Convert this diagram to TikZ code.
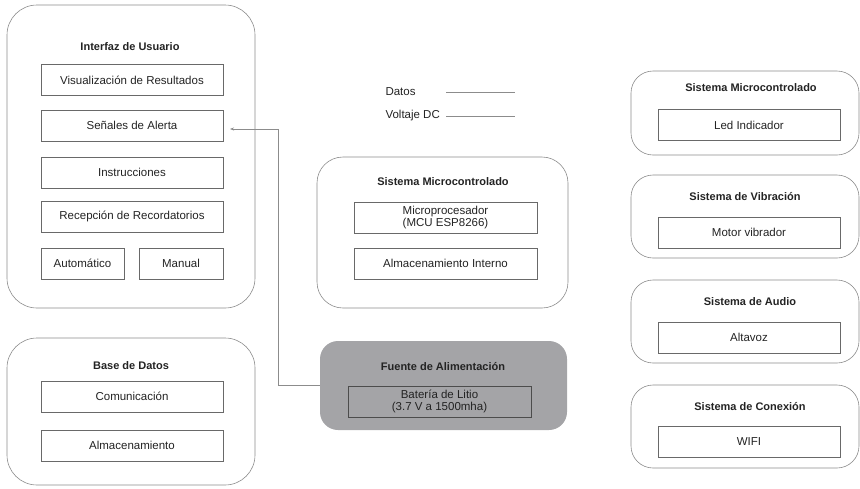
\documentclass[tikz,border=0pt]{standalone}
\usepackage{fontspec}
\setmainfont{Liberation Sans}
\usepackage{xcolor}
\definecolor{bdgray}{RGB}{140,140,140}
\definecolor{boxgray}{RGB}{105,105,105}
\definecolor{txtgray}{RGB}{35,35,35}
\definecolor{pwrgray}{RGB}{164,164,167}
\usepackage{tikz}
\usetikzlibrary{arrows.meta,positioning}

\begin{document}
\begin{tikzpicture}[x=1pt,y=-1pt,
  font=\fontsize{11.5}{13}\selectfont, text=txtgray,
  group/.style={draw=bdgray, line width=0.6pt, rounded corners=22pt, inner sep=0pt},
  part/.style={draw=boxgray, line width=0.6pt, minimum height=31pt, inner sep=0pt, align=center, font=\fontsize{11.5}{12.5}\selectfont},
  title/.style={font=\fontsize{11}{13}\selectfont\bfseries},
  wire/.style={draw=bdgray, line width=0.6pt}]
\useasboundingbox (0,0) rectangle (860,488);
% Interfaz de Usuario
\node[group, rounded corners=30pt, minimum width=248pt, minimum height=303pt] (usuario) at (131,156.5) {};
\node[title] (usuariot) at (130,47) {Interfaz de Usuario};
\node[part, minimum width=182pt] (visual) at (132,80) {Visualización de Resultados};
\node[part, minimum width=182pt] (senales) at (132,125.5) {Señales de Alerta};
\node[part, minimum width=182pt] (instr) at (132,172.5) {Instrucciones};
\node[part, minimum width=182pt] (recep) at (132,216.5) {Recepción de Recordatorios};
\node[part, minimum width=83pt] (auto) at (82.5,263.5) {Automático};
\node[part, minimum width=84pt] (manual) at (181,263.5) {Manual};
% Base de Datos
\node[group, rounded corners=30pt, minimum width=248pt, minimum height=147pt] (datos) at (131,411.5) {};
\node[title] (datost) at (131,366) {Base de Datos};
\node[part, minimum width=182pt] (comun) at (132,396.5) {Comunicación};
\node[part, minimum width=182pt] (almac) at (132,445.5) {Almacenamiento};
% Leyenda
\node[anchor=west] (ldatos) at (382,92) {Datos};
\node[anchor=west] (lvolt) at (382,116) {Voltaje DC};
\coordinate (d1) at (446,92); \coordinate (d2) at (515,92);
\coordinate (v1) at (446,116); \coordinate (v2) at (515,116);
\draw[wire] (d1) -- (d2);
\draw[wire] (v1) -- (v2);
% Sistema Microcontrolado central
\node[group, rounded corners=26pt, minimum width=251pt, minimum height=151pt] (micro) at (442.5,232.5) {};
\node[title] (microt) at (443,182) {Sistema Microcontrolado};
\node[part, minimum width=183pt] (mcu) at (445.5,217.5) {Microprocesador\\(MCU ESP8266)};
\node[part, minimum width=183pt] (interno) at (445.5,263.5) {Almacenamiento Interno};
% Fuente de Alimentacion
\node[fill=pwrgray, rounded corners=18pt, minimum width=247pt, minimum height=89pt, inner sep=0pt] (fuente) at (443.5,385.5) {};
\node[title] (fuentet) at (443,367) {Fuente de Alimentación};
\node[part, draw=black!70, minimum width=183pt] (bateria) at (439.5,401.5) {Batería de Litio\\(3.7 V a 1500mha)};
% Columna derecha
\node[group, minimum width=228pt, minimum height=84pt] (led) at (745,113) {};
\node[title] (ledt) at (751,88) {Sistema Microcontrolado};
\node[part, minimum width=182pt] (ledi) at (749,125) {Led Indicador};
\node[group, minimum width=228pt, minimum height=83pt] (vib) at (745,216.5) {};
\node[title] (vibt) at (745,197) {Sistema de Vibración};
\node[part, minimum width=182pt] (motor) at (749,232.5) {Motor vibrador};
\node[group, minimum width=228pt, minimum height=83pt] (audio) at (745,321.5) {};
\node[title] (audiot) at (750,302) {Sistema de Audio};
\node[part, minimum width=182pt] (altavoz) at (749,337.5) {Altavoz};
\node[group, minimum width=228pt, minimum height=83pt] (conex) at (745,426.5) {};
\node[title] (conext) at (750,407) {Sistema de Conexión};
\node[part, minimum width=182pt] (wifi) at (749,442) {WIFI};
% Conexion
\coordinate (bend) at (278,385.5);
\coordinate (alerta) at (230,129);
\draw[wire, -{Stealth[length=4pt,width=3pt]}] (fuente.west) -- (bend) |- (alerta);
\end{tikzpicture}
\end{document}
